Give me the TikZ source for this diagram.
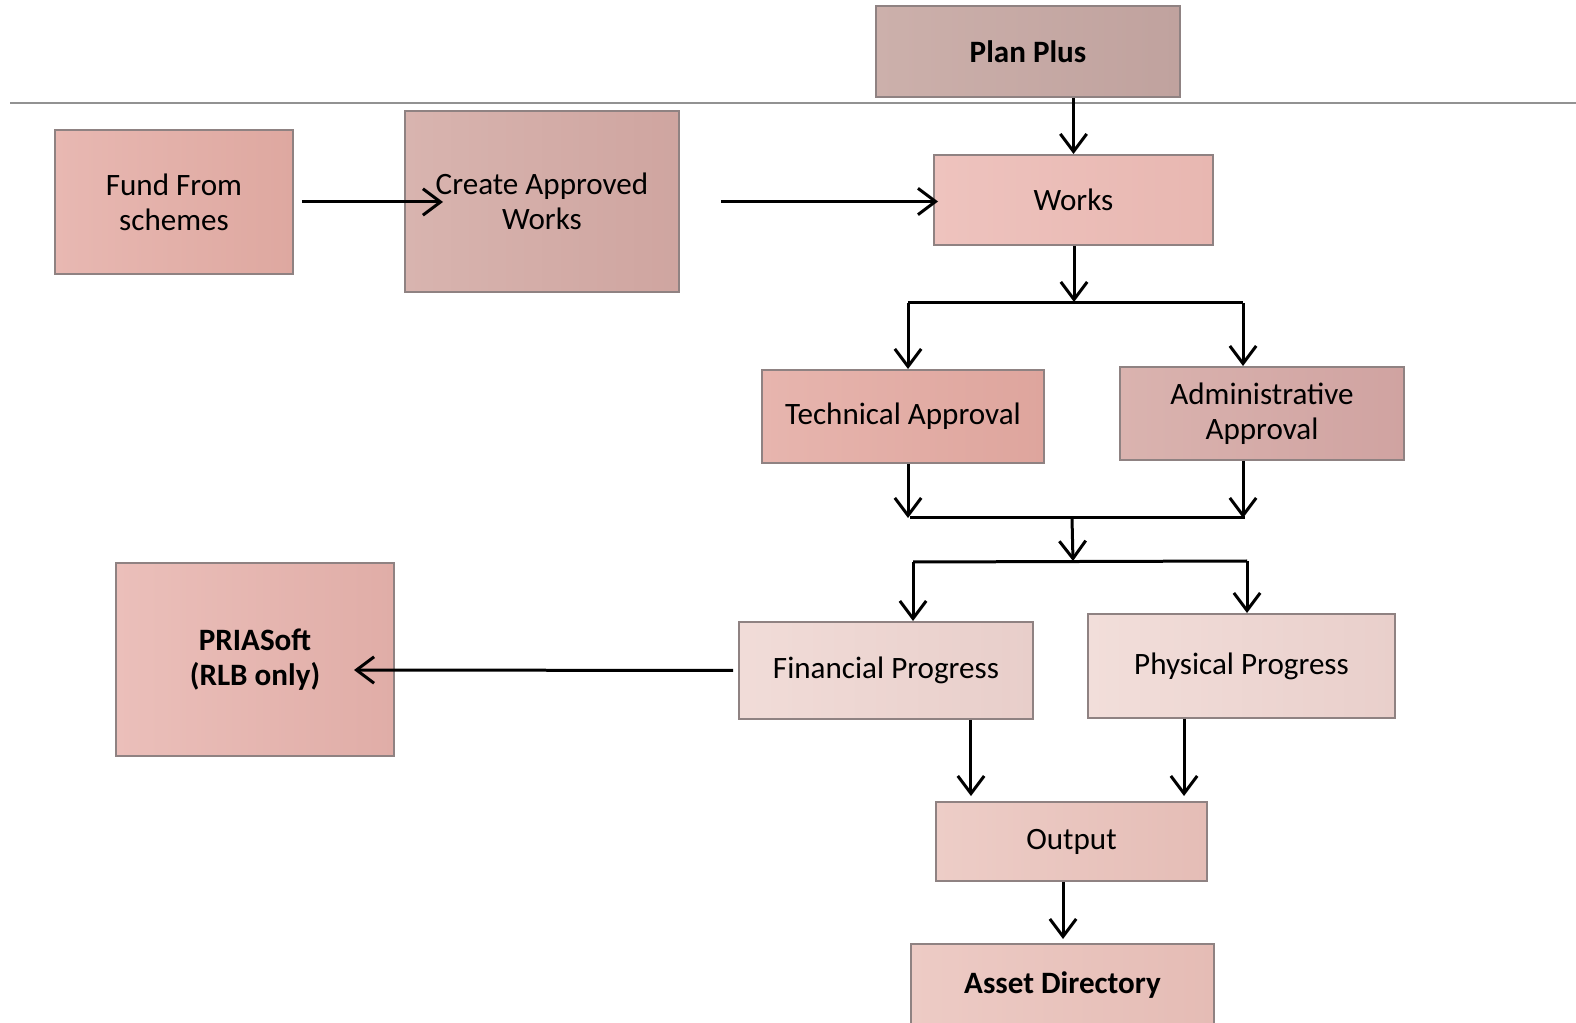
\documentclass[tikz,border=0pt]{standalone}
\usepackage{fontspec}
\setmainfont{Carlito}
\usetikzlibrary{arrows.meta}
\definecolor{edgegray}{HTML}{8F8282}
\definecolor{rulegray}{HTML}{929292}
\begin{document}
\begin{tikzpicture}[x=0.02cm,y=-0.02cm,
  box/.style={draw=edgegray,line width=0.04cm,align=center,inner sep=0pt,
    font=\fontsize{17.7pt}{20pt}\selectfont},
  arr/.style={-{Straight Barb[length=10pt,width=15pt]},line width=0.06cm},
  link/.style={line width=0.06cm}]
  \useasboundingbox (0,0) rectangle (1576,1023);
  \draw[rulegray,line width=0.04cm] (10,103) -- (1576,103);
  \node (plan) [box,left color={rgb,255:red,204;green,176;blue,171},right color={rgb,255:red,192;green,162;blue,158},minimum width=6.08cm,minimum height=1.82cm] at (1028,51.5) {\textbf{Plan Plus}};
  \node (fund) [box,left color={rgb,255:red,232;green,184;blue,178},right color={rgb,255:red,222;green,168;blue,160},minimum width=4.76cm,minimum height=2.88cm] at (174,202) {Fund From\\schemes};
  \node (create) [box,left color={rgb,255:red,216;green,180;blue,175},right color={rgb,255:red,207;green,165;blue,160},minimum width=5.48cm,minimum height=3.62cm] at (542,201.5) {Create Approved\\Works};
  \node (works) [box,left color={rgb,255:red,238;green,195;blue,190},right color={rgb,255:red,232;green,183;blue,177},minimum width=5.58cm,minimum height=1.8cm] at (1073.5,200) {Works};
  \node (tech) [box,left color={rgb,255:red,231;green,181;blue,174},right color={rgb,255:red,222;green,165;blue,157},minimum width=5.64cm,minimum height=1.86cm] at (903,416.5) {Technical Approval};
  \node (admin) [box,left color={rgb,255:red,218;green,179;blue,175},right color={rgb,255:red,208;green,163;blue,161},minimum width=5.68cm,minimum height=1.86cm] at (1262,413.5) {Administrative\\Approval};
  \node (pria) [box,left color={rgb,255:red,235;green,191;blue,186},right color={rgb,255:red,224;green,173;blue,167},minimum width=5.56cm,minimum height=3.86cm] at (255,659.5) {\textbf{PRIASoft}\\\textbf{(RLB only)}};
  \node (fin) [box,left color={rgb,255:red,241;green,220;blue,216},right color={rgb,255:red,232;green,206;blue,202},minimum width=5.88cm,minimum height=1.94cm] at (886,670.5) {Financial Progress};
  \node (phys) [box,left color={rgb,255:red,242;green,222;blue,218},right color={rgb,255:red,233;green,207;blue,203},minimum width=6.14cm,minimum height=2.08cm] at (1241.5,666) {Physical Progress};
  \node (output) [box,left color={rgb,255:red,237;green,205;blue,199},right color={rgb,255:red,229;green,189;blue,182},minimum width=5.42cm,minimum height=1.58cm] at (1071.5,841.5) {Output};
  \node (asset) [box,left color={rgb,255:red,237;green,203;blue,197},right color={rgb,255:red,229;green,188;blue,181},minimum width=6.06cm,minimum height=1.64cm] at (1062.5,985) {\textbf{Asset Directory}};
  % branch and join points
  \coordinate (fundtip) at (443,202);
  \coordinate (priatip) at (354,670);
  \coordinate (wm) at (1074,302);
  \coordinate (tl) at (908,303);
  \coordinate (tr) at (1243,303);
  \coordinate (jl) at (910,518);
  \coordinate (jr) at (1245,518);
  \coordinate (jm) at (1072,518);
  \coordinate (sm) at (1073,561);
  \coordinate (sl) at (913,562);
  \coordinate (sr) at (1247,561);
  \draw[arr] (plan.south -| works.north) -- (works.north);
  \draw[arr,shorten <=0.16cm] (fund.east) -- (fundtip);
  \draw[arr,shorten <=0.82cm,shorten >=-0.1cm] (create.east) -- (create.east -| works.west);
  \draw[arr] (works.south -| wm) -- (wm);
  \draw[link] (tl) -- (tr);
  \draw[arr] (tl) -- (tl |- tech.north);
  \draw[arr] (tr) -- (tr |- admin.north);
  \draw[arr] (tech.south -| tl) -- (tl |- jl);
  \draw[arr] (admin.south -| tr) -- (tr |- jr);
  \draw[link] (jl) -- (jr);
  \draw[arr] (jm) -- (sm);
  \draw[link] (sl) -- (sr);
  \draw[arr] (sl) -- (sl |- fin.north);
  \draw[arr] (sr) -- (sr |- phys.north);
  \draw[arr,shorten <=0.1cm] (fin.west) -- (priatip);
  \draw[arr,shorten >=0.1cm] ([xshift=1.7cm]fin.south) -- ([xshift=1.7cm]fin.south |- output.north);
  \draw[arr,shorten >=0.1cm] ([xshift=-1.15cm]phys.south) -- ([xshift=-1.15cm]phys.south |- output.north);
  \draw[arr,shorten >=0.08cm] ([xshift=-0.17cm]output.south) -- ([xshift=-0.17cm]output.south |- asset.north);
\end{tikzpicture}
\end{document}
